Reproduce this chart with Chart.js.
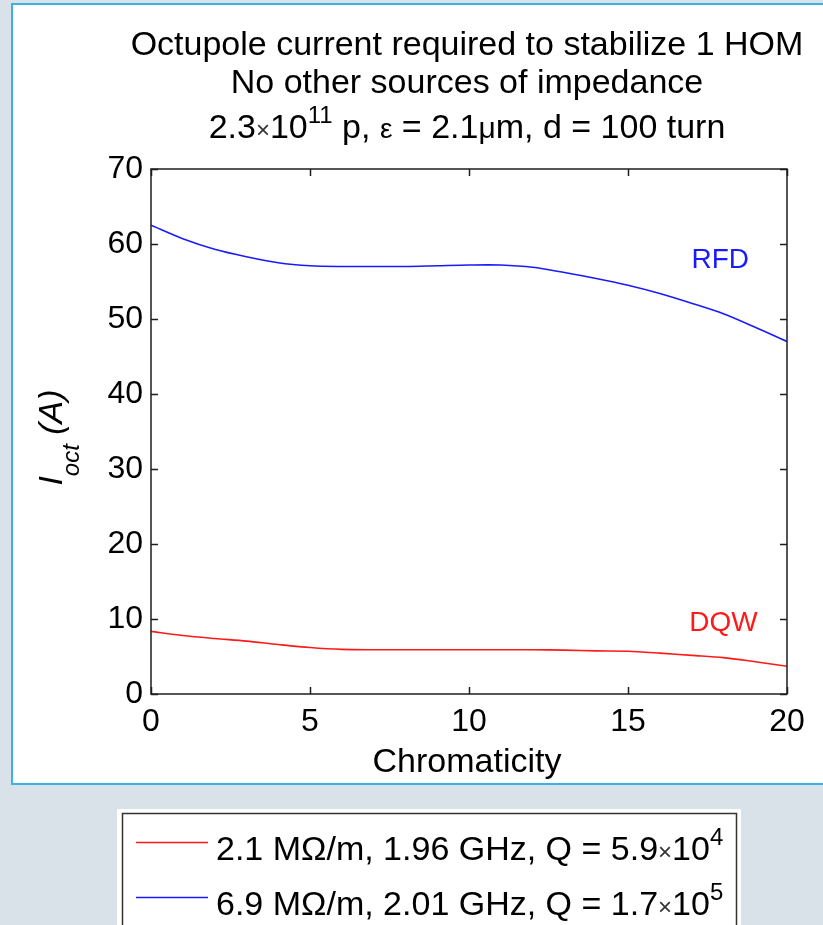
<!DOCTYPE html>
<html>
<head>
<meta charset="utf-8">
<script src="https://cdn.jsdelivr.net/npm/chart.js@4.4.1/dist/chart.umd.min.js"></script>
<style>
  html, body { margin: 0; padding: 0; background: #d9e1e9; }
  canvas { display: block; }
</style>
</head>
<body>
<canvas id="octupole-chart" width="823" height="925"></canvas>
<script>
// values
const chromaticity = [0, 1, 2, 3, 4, 5, 6, 7, 8, 9, 10, 11, 12, 13, 14, 15, 16, 17, 18, 19, 20];
const rfdCurrent = [62.5, 60.7, 59.3, 58.3, 57.5, 57.1, 57.0, 57.0, 57.0, 57.1, 57.2, 57.2, 56.9, 56.2, 55.4, 54.5, 53.4, 52.1, 50.7, 48.9, 47.0];
const dqwCurrent = [8.35, 7.8, 7.4, 7.05, 6.6, 6.2, 5.95, 5.9, 5.9, 5.9, 5.9, 5.9, 5.9, 5.85, 5.75, 5.7, 5.45, 5.15, 4.85, 4.3, 3.7];

const xRange = [0, 20];
const yRange = [0, 70];

const titleLines = [
  [{ t: 'Octupole current required to stabilize 1 HOM' }],
  [{ t: 'No other sources of impedance' }],
  [{ t: '2.3' }, { t: '×', size: 24, color: '#333' }, { t: '10' }, { t: '11', size: 24, dy: -15 },
   { t: ' p, ' }, { t: 'ε', size: 28 }, { t: ' = 2.1' }, { t: 'μ', size: 30 }, { t: 'm, d = 100 turn' }],
];
const legendLabels = [
  [{ t: '2.1 MΩ/m, 1.96 GHz, Q = 5.9' }, { t: '×', size: 24, color: '#333' }, { t: '10' }, { t: '4', size: 24, dy: -15 }],
  [{ t: '6.9 MΩ/m, 2.01 GHz, Q = 1.7' }, { t: '×', size: 24, color: '#333' }, { t: '10' }, { t: '5', size: 24, dy: -15 }],
];
const curveNames = ['DQW', 'RFD'];

const FONT = '"Liberation Sans", Arial, Helvetica, sans-serif';
const AXIS_COLOR = '#1e1e1e';

function toPoints(xs, ys) {
  return xs.map((x, i) => ({ x, y: ys[i] }));
}

// draw a row of text pieces (for superscripts / subscripts)
function drawRuns(ctx, runs, x, y, opts) {
  const base = opts.size;
  const style = opts.italic ? 'italic ' : '';
  let total = 0;
  runs.forEach((r) => {
    ctx.font = `${style}${r.size || base}px ${FONT}`;
    r.w = ctx.measureText(r.t).width;
    total += r.w;
  });
  let cx = opts.align === 'center' ? x - total / 2 : x;
  ctx.textAlign = 'left';
  ctx.textBaseline = 'alphabetic';
  runs.forEach((r) => {
    ctx.font = `${style}${r.size || base}px ${FONT}`;
    ctx.fillStyle = r.color || opts.color || '#000';
    ctx.fillText(r.t, cx, y + (r.dy || 0));
    cx += r.w;
  });
}

const framePlugin = {
  id: 'frame',
  beforeDraw(chart) {
    const ctx = chart.ctx;
    ctx.save();
    ctx.fillStyle = '#d9e1e9';
    ctx.fillRect(0, 0, chart.width, chart.height);
    // figure panel
    ctx.fillStyle = '#ffffff';
    ctx.fillRect(12, 4, 830, 780);
    ctx.strokeStyle = '#3fb0e6';
    ctx.lineWidth = 2;
    ctx.strokeRect(12, 4, 830, 780);
    // legend box
    ctx.fillStyle = '#ffffff';
    ctx.fillRect(117, 809, 624, 130);
    ctx.strokeStyle = '#333';
    ctx.lineWidth = 1.5;
    ctx.strokeRect(122.5, 813.5, 614, 130);
    ctx.restore();
  },
  afterDraw(chart) {
    const ctx = chart.ctx;
    const { left, right, top, bottom } = chart.chartArea;
    const xs = chart.scales.x;
    const ys = chart.scales.y;
    ctx.save();

    // box and inward ticks
    ctx.strokeStyle = AXIS_COLOR;
    ctx.lineWidth = 1.5;
    ctx.strokeRect(left, top, right - left, bottom - top);
    ctx.beginPath();
    xs.ticks.forEach((t) => {
      const px = Math.round(xs.getPixelForValue(t.value)) + 0.5;
      ctx.moveTo(px, bottom); ctx.lineTo(px, bottom - 7);
      ctx.moveTo(px, top); ctx.lineTo(px, top + 7);
    });
    ys.ticks.forEach((t) => {
      const py = Math.round(ys.getPixelForValue(t.value)) + 0.5;
      ctx.moveTo(left, py); ctx.lineTo(left + 7, py);
      ctx.moveTo(right, py); ctx.lineTo(right - 7, py);
    });
    ctx.stroke();

    // title
    const cx = (left + right) / 2 - 2;
    const baselines = [55, 93, 138];
    titleLines.forEach((runs, i) => drawRuns(ctx, runs, cx, baselines[i], { size: 34, align: 'center' }));

    // x axis title
    drawRuns(ctx, [{ t: 'Chromaticity' }], cx, 772, { size: 34, align: 'center' });

    // y axis title, rotated
    ctx.save();
    ctx.translate(62, (top + bottom) / 2 + 6);
    ctx.rotate(-Math.PI / 2);
    drawRuns(ctx, [{ t: 'I' }, { t: 'oct', size: 24, dy: 17 }, { t: ' (A)' }], 0, 0,
      { size: 34, align: 'center', italic: true });
    ctx.restore();

    // curve labels
    const ds = chart.data.datasets;
    ctx.font = `28px ${FONT}`;
    ctx.textAlign = 'center';
    ctx.textBaseline = 'alphabetic';
    ctx.fillStyle = ds[1].borderColor;
    ctx.fillText(curveNames[1], xs.getPixelForValue(17.9), ys.getPixelForValue(56.8));
    ctx.fillStyle = ds[0].borderColor;
    ctx.fillText(curveNames[0], xs.getPixelForValue(18.0), ys.getPixelForValue(8.4));

    // legend
    const rowY = [842, 897];
    ds.forEach((d, i) => {
      ctx.strokeStyle = d.borderColor;
      ctx.lineWidth = 1.5;
      ctx.beginPath();
      ctx.moveTo(136, rowY[i] + 0.5);
      ctx.lineTo(208, rowY[i] + 0.5);
      ctx.stroke();
      drawRuns(ctx, legendLabels[i], 216, rowY[i] + 18, { size: 34 });
    });
    ctx.restore();
  },
};

new Chart(document.getElementById('octupole-chart'), {
  type: 'line',
  data: {
    datasets: [
      {
        label: curveNames[0],
        data: toPoints(chromaticity, dqwCurrent),
        borderColor: '#ff1a1a',
        borderWidth: 1.6,
        pointRadius: 0,
        tension: 0.3,
        fill: false,
      },
      {
        label: curveNames[1],
        data: toPoints(chromaticity, rfdCurrent),
        borderColor: '#1a1aff',
        borderWidth: 1.6,
        pointRadius: 0,
        tension: 0.3,
        fill: false,
      },
    ],
  },
  options: {
    responsive: false,
    animation: false,
    events: [],
    layout: { padding: { top: 169, right: 36, bottom: 180, left: 0 } },
    plugins: {
      legend: { display: false },
      title: { display: false },
      tooltip: { enabled: false },
    },
    scales: {
      x: {
        type: 'linear',
        min: xRange[0],
        max: xRange[1],
        grid: { display: false, drawTicks: false },
        border: { display: false },
        ticks: { stepSize: 5, color: '#000', padding: 9, maxRotation: 0, font: { family: FONT, size: 32 } },
        afterFit: (scale) => { scale.height = 51; },
      },
      y: {
        min: yRange[0],
        max: yRange[1],
        grid: { display: false, drawTicks: false },
        border: { display: false },
        ticks: { stepSize: 10, color: '#000', padding: 8, font: { family: FONT, size: 32 } },
        afterFit: (scale) => { scale.width = 151; },
      },
    },
  },
  plugins: [framePlugin],
});
</script>
</body>
</html>
